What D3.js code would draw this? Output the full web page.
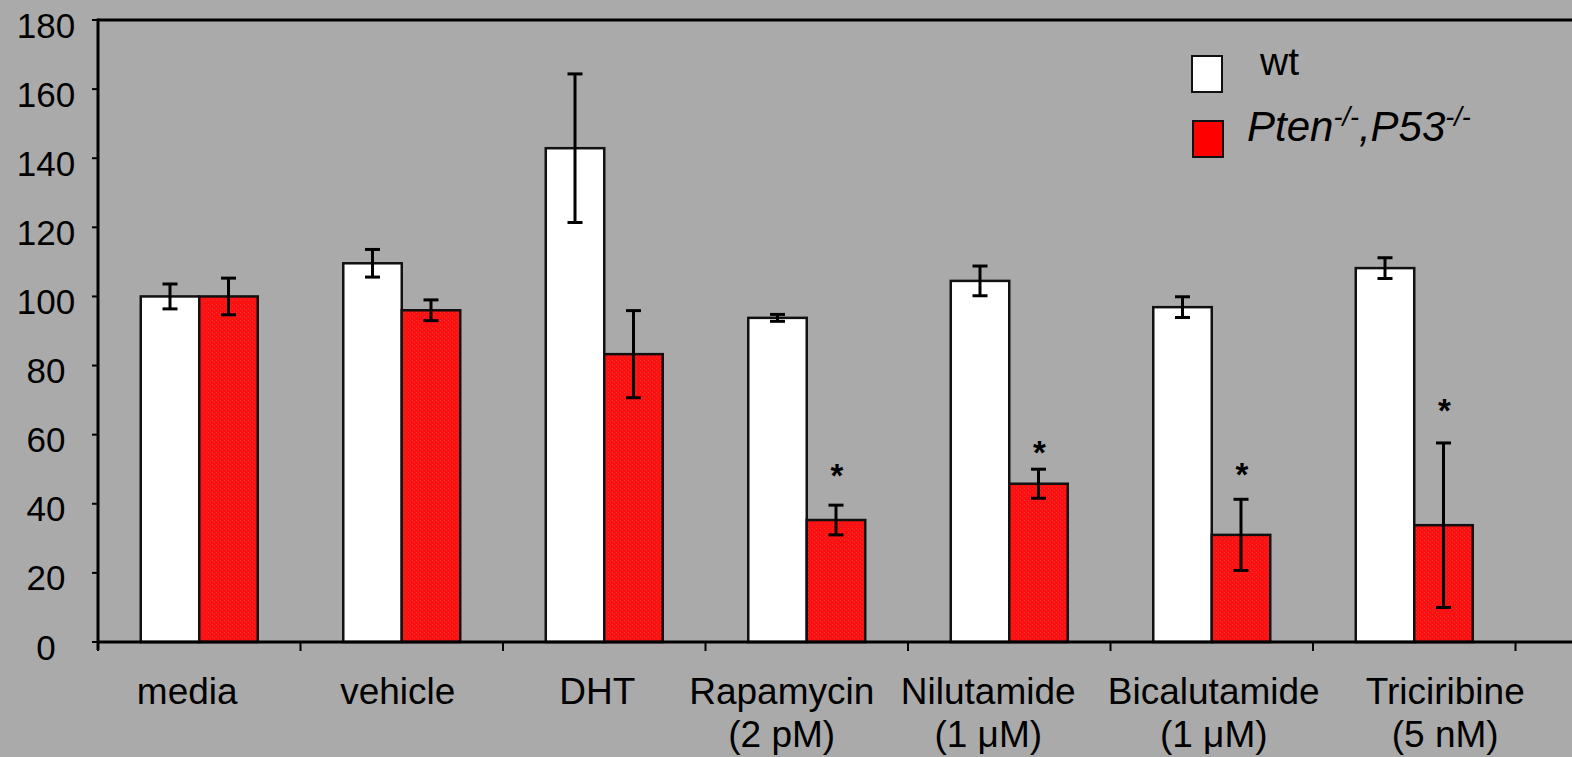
<!DOCTYPE html>
<html>
<head>
<meta charset="utf-8">
<script src="https://cdn.jsdelivr.net/npm/d3@7"></script>
<style>
  html, body { margin: 0; padding: 0; background: #aaaaaa; }
  svg { display: block; }
  text { font-family: "Liberation Sans", Arial, sans-serif; fill: #000; }
</style>
</head>
<body>
<svg id="chart" width="1572" height="757"></svg>
<script>
// ---- data ----
const categories = ["media", "vehicle", "DHT", "Rapamycin", "Nilutamide", "Bicalutamide", "Triciribine"];
const subLabels = ["", "", "", "(2 pM)", "(1 \u03BCM)", "(1 \u03BCM)", "(5 nM)"];
const series = ["wt", "Pten"];
const wtValues = [100, 109.6, 142.9, 93.8, 104.5, 96.9, 108.2];
const wtErrors = [3.6, 4.0, 21.5, 1.0, 4.3, 3.0, 3.0];
const ptenValues = [100, 96, 83.3, 35.3, 45.8, 31, 33.8];
const ptenErrors = [5.3, 3.0, 12.6, 4.3, 4.2, 10.3, 23.8];
const stars = [null, null, null, 50.3, 57, 50.6, 68.9];   // y (data units) of significance marks
const yTicks = [0, 20, 40, 60, 80, 100, 120, 140, 160, 180];

(function () {
// ---- layout ----
const W = 1572, H = 757;
const mLeft = 98, mTop = 20, mBottom = 642;
const step = 202.5;
const labelNudge = [-12, -4, -7, -25, -21, 2, 31];   // hand-placed label offsets in the original
const svg = d3.select("#chart");

const x = d3.scaleBand().domain(categories).range([mLeft, mLeft + step * categories.length]).padding(0);
const xs = d3.scaleBand().domain(series).range([0, x.bandwidth()]).paddingInner(0).paddingOuter(0.731);
const y = d3.scaleLinear().domain([0, 180]).range([mBottom, mTop]);

// pattern for red bars
const defs = svg.append("defs");
const pat = defs.append("pattern").attr("id", "redpat").attr("width", 4).attr("height", 4)
  .attr("patternUnits", "userSpaceOnUse");
pat.append("rect").attr("width", 4).attr("height", 4).attr("fill", "#ff1010");
pat.append("rect").attr("x", 0).attr("y", 0).attr("width", 1).attr("height", 1).attr("fill", "#dc3a3a");
pat.append("rect").attr("x", 2).attr("y", 2).attr("width", 1).attr("height", 1).attr("fill", "#ee2a2a");

// frame: top line
svg.append("line").attr("x1", mLeft).attr("x2", W).attr("y1", y(180)).attr("y2", y(180))
  .attr("stroke", "#000").attr("stroke-width", 3);

// bars
const rows = categories.map((c, i) => ({ c, i }));
const g = svg.append("g");
const seriesData = [
  { key: "wt", vals: wtValues, errs: wtErrors, fill: "#ffffff" },
  { key: "Pten", vals: ptenValues, errs: ptenErrors, fill: "url(#redpat)" }
];
seriesData.forEach(s => {
  g.selectAll(null).data(rows).join("rect")
    .attr("x", d => x(d.c) + xs(s.key))
    .attr("width", xs.bandwidth())
    .attr("y", d => y(s.vals[d.i]))
    .attr("height", d => y(0) - y(s.vals[d.i]))
    .attr("fill", s.fill)
    .attr("stroke", "#111")
    .attr("stroke-width", 2.5);
});

// error bars
seriesData.forEach(s => {
  const eg = svg.append("g").attr("stroke", "#000").attr("stroke-width", 3);
  rows.forEach(d => {
    const cx = x(d.c) + xs(s.key) + xs.bandwidth() / 2;
    const v = s.vals[d.i], e = s.errs[d.i];
    eg.append("line").attr("x1", cx).attr("x2", cx).attr("y1", y(v + e)).attr("y2", y(v - e));
    eg.append("line").attr("x1", cx - 7.5).attr("x2", cx + 7.5).attr("y1", y(v + e)).attr("y2", y(v + e));
    eg.append("line").attr("x1", cx - 7.5).attr("x2", cx + 7.5).attr("y1", y(v - e)).attr("y2", y(v - e));
  });
});

// stars
rows.forEach(d => {
  if (stars[d.i] == null) return;
  const cx = x(d.c) + xs("Pten") + xs.bandwidth() / 2;
  svg.append("text").attr("x", cx + 1).attr("y", y(stars[d.i]) + 18.5)
    .attr("text-anchor", "middle").style("font-size", "33px").style("font-weight", "bold").text("*");
});

// y axis
svg.append("line").attr("x1", mLeft).attr("x2", mLeft).attr("y1", mTop - 1.5).attr("y2", mBottom + 8)
  .attr("stroke", "#000").attr("stroke-width", 3);
yTicks.forEach(t => {
  svg.append("line").attr("x1", mLeft - 6).attr("x2", mLeft).attr("y1", y(t)).attr("y2", y(t))
    .attr("stroke", "#000").attr("stroke-width", 2);
  svg.append("text").attr("x", 46).attr("y", y(t) + 5).attr("dominant-baseline", "central")
    .attr("text-anchor", "middle").style("font-size", "35px").text(t);
});

// x axis
svg.append("line").attr("x1", mLeft).attr("x2", W).attr("y1", mBottom).attr("y2", mBottom)
  .attr("stroke", "#000").attr("stroke-width", 3);
const bounds = categories.map(c => x(c)).concat([x(categories[categories.length - 1]) + x.bandwidth()]);
bounds.forEach(bx => {
  svg.append("line").attr("x1", bx).attr("x2", bx).attr("y1", mBottom).attr("y2", mBottom + 9)
    .attr("stroke", "#000").attr("stroke-width", 2);
});
rows.forEach(d => {
  const cx = x(d.c) + x.bandwidth() / 2 + labelNudge[d.i];
  svg.append("text").attr("x", cx).attr("y", 704).attr("text-anchor", "middle")
    .style("font-size", "37px").text(d.c);
  if (subLabels[d.i]) {
    svg.append("text").attr("x", cx).attr("y", 747).attr("text-anchor", "middle")
      .style("font-size", "37px").text(subLabels[d.i]);
  }
});

// legend
const lg = svg.append("g");
lg.append("rect").attr("x", 1192).attr("y", 56).attr("width", 30).attr("height", 36)
  .attr("fill", "#fff").attr("stroke", "#111").attr("stroke-width", 2);
lg.append("rect").attr("x", 1193).attr("y", 121).attr("width", 30).attr("height", 36)
  .attr("fill", "#ff0000").attr("stroke", "#111").attr("stroke-width", 2);
lg.append("text").attr("x", 1260).attr("y", 75).style("font-size", "39px").text("wt");
const t2 = lg.append("text").attr("x", 1247).attr("y", 141).style("font-size", "42px").style("font-style", "italic");
t2.append("tspan").text("Pten");
t2.append("tspan").attr("dy", -15).style("font-size", "27px").text("-/-");
t2.append("tspan").attr("dy", 15).text(",P53");
t2.append("tspan").attr("dy", -15).style("font-size", "27px").text("-/-");
})();
</script>
</body>
</html>
